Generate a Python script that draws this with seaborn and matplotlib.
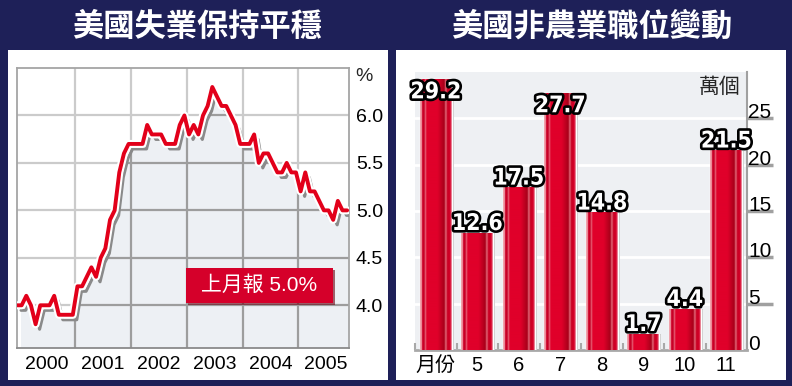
import numpy as np
import pandas as pd
import seaborn as sns
import matplotlib.pyplot as plt
from matplotlib import patheffects as pe
from matplotlib import transforms as mtransforms
from matplotlib.colors import LinearSegmentedColormap
from matplotlib.patches import Rectangle

# 失業率 (月度, 1999-12 ~ 2005-11)
ur_months = pd.period_range('1999-12', '2005-11', freq='M')
ur_rate = [4.0,
           4.0, 4.1, 4.0, 3.8, 4.0, 4.0, 4.0, 4.1, 3.9, 3.9, 3.9, 3.9,
           4.2, 4.2, 4.3, 4.4, 4.3, 4.5, 4.6, 4.9, 5.0, 5.4, 5.6, 5.7,
           5.7, 5.7, 5.7, 5.9, 5.8, 5.8, 5.8, 5.7, 5.7, 5.7, 5.9, 6.0,
           5.8, 5.9, 5.8, 6.0, 6.1, 6.3, 6.2, 6.1, 6.1, 6.0, 5.9, 5.7,
           5.7, 5.7, 5.8, 5.5, 5.6, 5.6, 5.5, 5.4, 5.4, 5.5, 5.4, 5.4,
           5.2, 5.4, 5.2, 5.2, 5.1, 5.0, 5.0, 4.9, 5.1, 5.0, 5.0]
ur_ticks = [4.0, 4.5, 5.0, 5.5, 6.0]
latest_note = '上月報 5.0%'

# 非農業職位 (萬個)
job_months = ['月份', '5', '6', '7', '8', '9', '10', '11']
job_gain = [29.2, 12.6, 17.5, 27.7, 14.8, 1.7, 4.4, 21.5]
job_ticks = [0, 5, 10, 15, 20, 25]

NAVY = '#1e2058'
RED = '#e2001a'

sns.set_theme(style='white')
plt.rcParams['font.family'] = ['Liberation Sans', 'Noto Sans CJK TC', 'DejaVu Sans']
CJK = ['Noto Sans CJK TC', 'DejaVu Sans']

W, H = 792, 386
fig = plt.figure(figsize=(W / 100, H / 100), dpi=100, facecolor=NAVY)

# 白色面板
fig.add_artist(Rectangle((8 / W, 1 - 380 / H), 380 / W, 330 / H, transform=fig.transFigure,
                         facecolor='white', edgecolor='none', zorder=0))
fig.add_artist(Rectangle((396 / W, 1 - 380 / H), 390 / W, 330 / H, transform=fig.transFigure,
                         facecolor='white', edgecolor='none', zorder=0))

fig.text(197.5 / W, 1 - 27 / H, '美國失業保持平穩', ha='center', va='center', color='white',
         fontsize=22.5, fontweight='heavy', family=CJK)
fig.text(592 / W, 1 - 27 / H, '美國非農業職位變動', ha='center', va='center', color='white',
         fontsize=22.5, fontweight='heavy', family=CJK)

# ---------- 左圖: 失業率 ----------
ax1 = fig.add_axes([17 / W, 1 - 348 / H, 332 / W, 280 / H])
ax1.set_facecolor('white')
x = np.arange(len(ur_months))
year_start = [i for i, p in enumerate(ur_months) if p.month == 1]
bounds = [s - 0.5 for s in year_start[1:]]
label_pos = [s + 5.5 for s in year_start]

shadow = mtransforms.offset_copy(ax1.transData, fig=fig, x=4, y=-5, units='dots')
fill = ax1.fill_between(x, ur_rate, 0, color='#edf0f4', lw=0, transform=shadow, zorder=1)
clip_path = fill.get_paths()[0]

ax1.set_axisbelow(True)
ax1.grid(True, which='major', axis='y', color='#cbcbcb', lw=1.6)
ax1.grid(True, which='minor', axis='x', color='#cbcbcb', lw=1.6)
for yv in ur_ticks:
    ln = ax1.axhline(yv, color='#9d9d9d', lw=1.6, zorder=2)
    ln.set_clip_path(clip_path, shadow)
for b in bounds:
    ln = ax1.axvline(b, color='#9d9d9d', lw=1.6, zorder=2)
    ln.set_clip_path(clip_path, shadow)

ax1.plot(x, ur_rate, color='#8a8a8a', lw=2.2, transform=shadow, zorder=3)
sns.lineplot(x=x, y=ur_rate, ax=ax1, color=RED, lw=2.8, zorder=4,
             path_effects=[pe.Stroke(linewidth=5.8, foreground='white'), pe.Normal()])

ax1.set_xlim(0, 71.4)
ax1.set_ylim(3.55, 6.5)
ax1.set_xticks(label_pos, [str(p.year) for p in ur_months[year_start]])
ax1.set_xticks(bounds, minor=True)
ax1.set_yticks(ur_ticks, [f'{v:.1f}' for v in ur_ticks])
ax1.yaxis.tick_right()
ax1.tick_params(axis='y', length=0, pad=5, labelsize=14, labelcolor='black')
ax1.tick_params(axis='x', which='both', length=0, pad=6, labelsize=14, labelcolor='black')
for s in ax1.spines.values():
    s.set_color('#a5a5a5')
    s.set_linewidth(1.3)
ax1.spines['bottom'].set_color('#8a8a8a')
ax1.text(1.018, 0.971, '%', transform=ax1.transAxes, ha='left', va='center', fontsize=14)

box = Rectangle((0.509, 0.161), 0.443, 0.125, transform=ax1.transAxes, facecolor='#d5002a',
                edgecolor='none', zorder=5,
                path_effects=[pe.SimplePatchShadow(offset=(1.5, -1.5), shadow_rgbFace='#6a0010', alpha=0.6),
                              pe.Normal()])
ax1.add_patch(box)
ax1.text(0.7305, 0.2235, latest_note, transform=ax1.transAxes, ha='center', va='center',
         color='white', fontsize=15, zorder=6)

# ---------- 右圖: 非農業職位 ----------
ax2 = fig.add_axes([415 / W, 1 - 350 / H, 332 / W, 278 / H])
ax2.set_facecolor('#eef0f3')
sns.barplot(x=job_months, y=job_gain, ax=ax2, color='#dc0028', saturation=1, width=0.77, zorder=3)

bar_cmap = LinearSegmentedColormap.from_list('bar', [
    (0.0, '#f2a5ae'), (0.05, '#f0a0aa'), (0.07, '#d0002a'), (0.13, '#c40024'),
    (0.17, '#ea6b7e'), (0.21, '#e0002a'), (0.55, '#e0002a'), (0.76, '#a80019'),
    (0.81, '#e6707f'), (0.86, '#c80022'), (0.95, '#d8002a'), (1.0, '#f0b8c0')])
grad = np.linspace(0, 1, 256)[None, :]
for p in ax2.patches:
    x0, w, h = p.get_x(), p.get_width(), p.get_height()
    p.set_path_effects([pe.SimplePatchShadow(offset=(1.5, 0), shadow_rgbFace='#c8c8c8', alpha=1),
                        pe.Normal()])
    ax2.imshow(grad, cmap=bar_cmap, extent=(x0, x0 + w, 0, h), aspect='auto',
               interpolation='bilinear', zorder=3.5)

lab_fx = [pe.SimplePatchShadow(offset=(1.5, -1.5), shadow_rgbFace='#555555', alpha=0.6),
          pe.Stroke(linewidth=3.8, foreground='black'), pe.Normal()]
lab_kw = dict(ha='center', color='white', family='DejaVu Sans', stretch='condensed',
              fontsize=16.5, fontweight='bold', path_effects=lab_fx, zorder=6)
for i, v in enumerate(job_gain):
    if v + 3 > 30:
        ax2.text(i, v - 0.1, f'{v:.1f}', va='top', **lab_kw)
    else:
        ax2.text(i, v + 0.35, f'{v:.1f}', va='baseline', **lab_kw)

ax2.set_xlim(-0.5, len(job_months) - 0.5)
ax2.set_ylim(0, 30)
ax2.set_axisbelow(True)
ax2.grid(True, axis='y', color='white', lw=2)
ax2.grid(False, axis='x')
ax2.set_yticks(job_ticks)
ax2.yaxis.tick_right()
ax2.tick_params(axis='y', which='major', right=True, left=False, length=19, width=2.5,
                color='#a0a0a0', direction='out', pad=-18, labelsize=15, labelcolor='black')
for lab in ax2.get_yticklabels():
    lab.set_va('baseline')
ax2.yaxis.get_major_ticks()[0].tick2line.set_visible(False)
ax2.set_xticks(np.arange(len(job_months) + 1) - 0.5, minor=True)
ax2.tick_params(axis='x', which='major', length=0, pad=4, labelsize=14.5, labelcolor='black')
ax2.tick_params(axis='x', which='minor', bottom=True, direction='in', length=5, width=1.5,
                color='#a8a8a8')
ax2.set_xlabel('')
ax2.set_ylabel('')
for side in ['left', 'top']:
    ax2.spines[side].set_visible(False)
ax2.spines['right'].set_color('#a0a0a0')
ax2.spines['right'].set_linewidth(1.5)
ax2.spines['bottom'].set_color('#a8a8a8')
ax2.spines['bottom'].set_linewidth(2)
ax2.text(0.98, 0.945, '萬個', transform=ax2.transAxes, ha='right', va='center', fontsize=15,
         family=CJK, zorder=6)

fig.savefig('out.png', dpi=100, facecolor=NAVY)
